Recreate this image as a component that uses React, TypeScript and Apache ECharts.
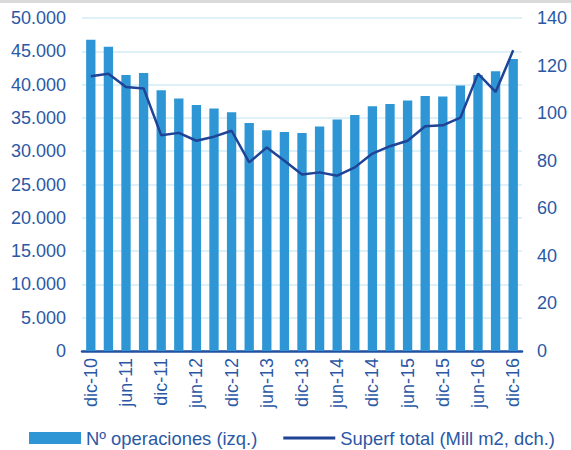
import React, { useEffect, useRef } from "react";
import * as echarts from "echarts";

const categories = [
  "dic-10", "mar-11", "jun-11", "sep-11", "dic-11", "mar-12", "jun-12", "sep-12",
  "dic-12", "mar-13", "jun-13", "sep-13", "dic-13", "mar-14", "jun-14", "sep-14",
  "dic-14", "mar-15", "jun-15", "sep-15", "dic-15", "mar-16", "jun-16", "sep-16", "dic-16",
];

const operaciones = [
  46750, 45700, 41450, 41750, 39150, 37900, 36950, 36400, 35850, 34250, 33150, 32900,
  32750, 33700, 34750, 35450, 36750, 37100, 37600, 38300, 38200, 39850, 41450, 42000, 43850,
];

const superficie = [
  115.5, 116.6, 111, 110.4, 90.7, 91.7, 88.4, 90.1, 92.6, 79.3, 85.6, 80,
  74.2, 75.1, 73.7, 77.2, 83, 86.1, 88.4, 94.5, 94.9, 98.1, 116.6, 108.9, 126.4,
];

const seriesNames = ["Nº operaciones (izq.)", "Superf total (Mill m2, dch.)"];

const TEXT = "#2b58a5";
const FONT = "'Liberation Sans', Arial, sans-serif";

export default function App() {
  const ref = useRef<HTMLDivElement>(null);
  useEffect(() => {
    if (!ref.current) return;
    const chart = echarts.init(ref.current, null, { renderer: "svg" });
    chart.setOption({
      animation: false,
      backgroundColor: "#ffffff",
      textStyle: { fontFamily: FONT },
      graphic: [
        { type: "rect", shape: { x: 0, y: 0, width: 571, height: 3 }, style: { fill: "#dadada" } },
      ],
      grid: { left: 82, right: 49, top: 18, bottom: 99 },
      legend: {
        left: 29,
        top: 428,
        padding: 0,
        itemWidth: 52,
        itemHeight: 12,
        itemGap: 26,
        textStyle: { color: TEXT, fontSize: 18.4, fontFamily: FONT, lineHeight: 20 },
        data: [
          { name: seriesNames[0], icon: "rect" },
          { name: seriesNames[1], icon: "path://M0,0H52V3H0Z" },
        ],
      },
      xAxis: {
        type: "category",
        data: categories,
        boundaryGap: true,
        axisLine: { lineStyle: { color: "#2350a0", width: 2.5 } },
        axisTick: { interval: 0, length: 5, lineStyle: { color: "#2350a0", width: 2 } },
        axisLabel: {
          interval: 1,
          rotate: 90,
          margin: 7,
          color: TEXT,
          fontSize: 18,
          fontFamily: FONT,
        },
      },
      yAxis: [
        {
          type: "value",
          min: 0,
          max: 50000,
          interval: 5000,
          axisLine: { show: false },
          axisTick: { show: false },
          splitLine: { lineStyle: { color: "#d5ecf6", width: 1.5 } },
          axisLabel: {
            margin: 16,
            color: TEXT,
            fontSize: 18,
            fontFamily: FONT,
            formatter: (v: number) => (v === 0 ? "0" : v.toLocaleString("de-DE")),
          },
        },
        {
          type: "value",
          min: 0,
          max: 140,
          interval: 20,
          axisLine: { show: false },
          axisTick: { show: false },
          splitLine: { show: false },
          axisLabel: { margin: 15, color: TEXT, fontSize: 18, fontFamily: FONT },
        },
      ],
      series: [
        {
          name: seriesNames[0],
          type: "bar",
          data: operaciones,
          barWidth: "53%",
          itemStyle: { color: "#2e96d5" },
        },
        {
          name: seriesNames[1],
          type: "line",
          yAxisIndex: 1,
          data: superficie,
          symbol: "none",
          lineStyle: { color: "#1f4396", width: 2.5 },
          itemStyle: { color: "#1f4396" },
        },
      ],
    });
    return () => chart.dispose();
  }, []);
  return (
    <div
      ref={ref}
      style={{ position: "absolute", left: 0, top: 0, width: 571, height: 450 }}
    />
  );
}
